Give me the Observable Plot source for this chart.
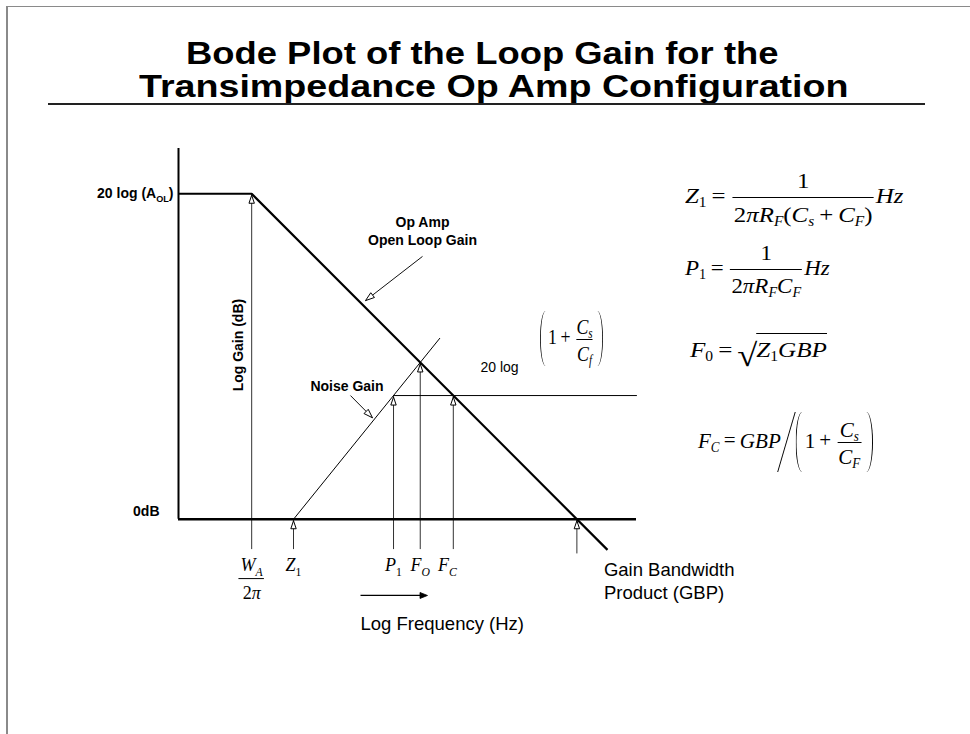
<!DOCTYPE html>
<html>
<head>
<meta charset="utf-8">
<script src="https://cdn.jsdelivr.net/npm/d3@7"></script>
<script src="https://cdn.jsdelivr.net/npm/@observablehq/plot@0.6"></script>
<style>
  html, body { margin: 0; padding: 0; background: #fff; }
  #page { position: relative; width: 970px; height: 734px; overflow: hidden; background: #fff; }
  .rule-left { position: absolute; left: 6px; top: 6px; bottom: 0; width: 2px; background: #8a8a8a; z-index: 2; }
  .rule-top { position: absolute; left: 6px; right: 0; top: 6px; height: 1px; background: #8a8a8a; z-index: 2; }
  header { position: relative; height: 112px; }
  .title-line { position: absolute; white-space: nowrap; font: bold 31px "Liberation Sans", Arial, Helvetica, sans-serif; line-height: 1; transform-origin: 0 0; color: #000; }
  .title-rule { position: absolute; left: 48px; width: 877px; top: 103px; height: 2px; background: #222; }
  #chart svg { display: block; }
  .bm { display: inline-block; width: 0; height: 0; }

  /* formula typesetting */
  .eq { position: absolute; white-space: nowrap; font: 22px "Liberation Serif", "Times New Roman", serif; line-height: 1.1; transform-origin: 0 0; color: #000; }
  .eq i { font-style: italic; }
  .eq sub { font-size: 0.62em; vertical-align: -0.3em; line-height: 0; }
  .eq .op { margin: 0 0.2em; }
  .eq .frac { display: inline-flex; flex-direction: column; align-items: center; vertical-align: 15px; margin: 0 2px; }
  .eq .frac > span { line-height: 1.1; padding: 0 1px; }
  .eq .frac .num { padding-bottom: 4px; }
  .eq .frac .den { border-top: 1px solid #000; padding-top: var(--dpad, 4px); }
  .eq .frac.small { vertical-align: 10px; }
  .eq .frac.small .num { padding-bottom: 0; }
  .eq .frac.small .den { padding-top: 2px; }
  .eq .lp, .eq .rp { display: inline-block; width: 7px; height: var(--ph, 56px); border: 0 solid #000; vertical-align: calc(var(--ph, 56px) / -2 + 5.5px); }
  .eq .lp { border-left-width: 1.2px; border-radius: 7px 0 0 7px / 50% 0 0 50%; margin-right: 2px; }
  .eq .rp { border-right-width: 1.2px; border-radius: 0 7px 7px 0 / 0 50% 50% 0; margin-left: 2px; }
  .eq .slash { display: inline-block; width: 0; height: 60px; border-left: 1.2px solid #000; transform: skewX(-17deg); vertical-align: -24.5px; margin: 0 9px 0 5px; }
  .eq .rad { display: inline-block; font-size: 32px; line-height: 1; vertical-align: -9px; margin-right: -1px; }
  .eq .radicand { display: inline-block; border-top: 1px solid #000; padding-top: 5px; line-height: 1; }
</style>
</head>
<body>
<div id="page">
  <div class="rule-left"></div>
  <div class="rule-top"></div>
  <header>
    <div class="title-line" id="t1">Bode Plot of the Loop Gain for the</div>
    <div class="title-line" id="t2">Transimpedance Op Amp Configuration</div>
    <div class="title-rule"></div>
  </header>
  <div id="chart"></div>
</div>
<script>
// ---- schematic values: log10(frequency) in decades, gain in dB ----
const axisLogF = -0.35;          // gain axis position
const endLogF = 8.1;             // right end of the 0 dB and noise-gain lines
const axisTopDb = 136.7;         // top of the gain axis
const openLoopLogF = [-0.35, 1, 7.565];
const openLoopDb = [120, 120, -11.3];
const noiseRiseLogF = [1.772, 4.47];
const noiseRiseDb = [0, 66.7];
const noiseFlatLogF = [3.617, 8.1];
const noiseFlatDb = [45.6, 45.6];

// frequency markers (W_A/2π, Z1, P1, F0, FC, GBP)
const markerNames = ["WA", "Z1", "P1", "F0", "FC", "GBP"];
const markerLogF = [1, 1.772, 3.617, 4.11, 4.72, 7];
const markerDb = [120, 0, 45.6, 57.8, 45.6, 0];
const markerFootDb = [-11, -11, -11, -11, -11, -12.6];
const markerLabels = ["", "$Z_{1}", "$P_{1}", "$F_{O}", "$F_{C}", ""];

// callout pointers: tail → tip
const pointerNames = ["openLoop", "noise"];
const pointerLogF1 = [4.152, 2.823];
const pointerDb1 = [96.9, 45.6];
const pointerLogF2 = [3.10, 3.229];
const pointerDb2 = [80.6, 37.4];
const pointerText = ["Op Amp\nOpen Loop Gain", "Noise Gain"];

const openLoop = openLoopLogF.map((x, i) => ({x, y: openLoopDb[i]}));
const noiseRise = noiseRiseLogF.map((x, i) => ({x, y: noiseRiseDb[i]}));
const noiseFlat = noiseFlatLogF.map((x, i) => ({x, y: noiseFlatDb[i]}));
const markers = markerNames.map((name, i) => ({name, logF: markerLogF[i], db: markerDb[i], foot: markerFootDb[i], label: markerLabels[i]}));
const pointers = pointerNames.map((name, i) => ({name, x1: pointerLogF1[i], y1: pointerDb1[i], x2: pointerLogF2[i], y2: pointerDb2[i], text: pointerText[i]}));

// arrowhead glyph: tip at the origin, rotated clockwise by deg (0 = pointing up)
function head(deg, len = 8, half = 2.7) {
  const a = deg * Math.PI / 180, c = Math.cos(a), s = Math.sin(a);
  const pt = (x, y) => [x * c - y * s, x * s + y * c];
  return {draw(ctx) {
    const p1 = pt(half, len), p2 = pt(-half, len);
    ctx.moveTo(0, 0); ctx.lineTo(p1[0], p1[1]); ctx.lineTo(p2[0], p2[1]); ctx.closePath();
  }};
}

const serif = "Liberation Serif, Times New Roman, serif";
const sans = "Liberation Sans, Arial, Helvetica, sans-serif";

const chart = Plot.plot({
  width: 970,
  height: 622,
  marginLeft: 178,
  marginRight: 334,
  marginTop: 27,
  marginBottom: 161,
  x: {domain: [axisLogF, endLogF], axis: null},
  y: {domain: [-20, 140], axis: null},
  style: {fontFamily: sans, background: "white", overflow: "visible", color: "black"},
  marks: [
    // marker shafts
    Plot.link(markers, {x1: "logF", x2: "logF", y1: "foot", y2: "db", stroke: "#333", strokeWidth: 1}),
    // callout shafts
    Plot.link(pointers, {x1: "x1", y1: "y1", x2: "x2", y2: "y2", stroke: "#111", strokeWidth: 1}),
    // hollow arrowheads
    Plot.dot(markers, {x: "logF", y: "db", dy: 1.5, symbol: head(0), fill: "white", stroke: "black", strokeWidth: 1}),
    Plot.dot(pointers.filter(d => d.name === "openLoop"), {x: "x2", y: "y2", symbol: head(232.3, 9, 3), fill: "white", stroke: "black", strokeWidth: 1}),
    Plot.dot(pointers.filter(d => d.name === "noise"), {x: "x2", y: "y2", symbol: head(135, 9, 3), fill: "white", stroke: "black", strokeWidth: 1}),
    // gain axis and 0 dB line
    Plot.ruleX([axisLogF], {y1: 0, y2: axisTopDb, stroke: "black", strokeWidth: 2}),
    Plot.ruleY([0], {x1: axisLogF, x2: endLogF, stroke: "black", strokeWidth: 2.4}),
    // open-loop gain and noise gain
    Plot.line(openLoop, {x: "x", y: "y", stroke: "black", strokeWidth: 2.2, strokeLinecap: "butt"}),
    Plot.line(noiseRise, {x: "x", y: "y", stroke: "black", strokeWidth: 1}),
    Plot.line(noiseFlat, {x: "x", y: "y", stroke: "black", strokeWidth: 1}),
    // gain axis labels
    Plot.text(["20 log (A_{OL})"], {x: axisLogF, y: 120, text: d => d, textAnchor: "end", lineAnchor: "bottom", dx: -5, dy: 4, fontWeight: "bold", fontSize: 14}),
    Plot.text(["0dB"], {x: axisLogF, y: 0, text: d => d, textAnchor: "end", lineAnchor: "bottom", dx: -19, dy: -3.5, fontWeight: "bold", fontSize: 14}),
    Plot.text(["Log Gain (dB)"], {x: 1, y: 64.2, text: d => d, rotate: -90, dx: -13, fontWeight: "bold", fontSize: 14}),
    // callout labels
    Plot.text(pointers.filter(d => d.name === "openLoop"), {x: "x1", y: "y1", text: "text", lineAnchor: "bottom", dy: -11, fontWeight: "bold", fontSize: 14, lineHeight: 1.29}),
    Plot.text(pointers.filter(d => d.name === "noise"), {x: "x1", y: "y1", text: "text", lineAnchor: "bottom", dx: -3.5, dy: -5, fontWeight: "bold", fontSize: 14}),
    Plot.text(["20 log"], {x: 5.222, y: noiseFlatDb[0], text: d => d, textAnchor: "start", lineAnchor: "bottom", dy: -24, fontSize: 14}),
    // frequency labels
    Plot.text(markers.filter(d => d.label && d.name !== "FC"), {x: "logF", y: "foot", text: "label", lineAnchor: "bottom", dy: 21.5, fontFamily: serif, fontSize: 18}),
    Plot.text(markers.filter(d => d.name === "FC"), {x: "logF", y: "foot", text: "label", lineAnchor: "bottom", dx: -6, dy: 21.5, fontFamily: serif, fontSize: 18}),
    Plot.text(["$W_{A}"], {x: markerLogF[0], y: markerFootDb[0], text: d => d, lineAnchor: "bottom", dy: 21.5, fontFamily: serif, fontSize: 18}),
    Plot.ruleY([markerFootDb[0]], {x1: markerLogF[0] - 0.235, x2: markerLogF[0] + 0.235, dy: 29.5, stroke: "black", strokeWidth: 1}),
    Plot.text(["$2π"], {x: markerLogF[0], y: markerFootDb[0], text: d => d, lineAnchor: "bottom", dy: 49.5, fontFamily: serif, fontSize: 18}),
    Plot.text(["Gain Bandwidth\nProduct (GBP)"], {x: markerLogF[5], y: 0, text: d => d, textAnchor: "start", lineAnchor: "top", dx: 27, dy: 40.2, fontSize: 18.5, lineHeight: 1.243}),
    // frequency direction arrow and label
    Plot.link([{x1: 3.008, x2: 4.15, y: -28.1}], {x1: "x1", x2: "x2", y1: "y", y2: "y", stroke: "black", strokeWidth: 1.3}),
    Plot.dot([{x: 4.244, y: -28.1}], {x: "x", y: "y", symbol: head(90, 7.5, 3), fill: "black", stroke: "black", strokeWidth: 0.8}),
    Plot.text(["Log Frequency (Hz)"], {x: 3.008, y: -28.1, text: d => d, textAnchor: "start", lineAnchor: "bottom", dy: 35, fontSize: 18.5})
  ]
});
document.getElementById("chart").appendChild(chart);

// subscripts (_{...}) and math italics ($ prefix) inside SVG labels
const svgNS = "http://www.w3.org/2000/svg";
for (const el of chart.querySelectorAll("text")) {
  let s = el.textContent;
  if (!(s.startsWith("$") || s.includes("_{"))) continue;
  const math = s.startsWith("$");
  if (math) s = s.slice(1);
  const fs = parseFloat(getComputedStyle(el).fontSize);
  const parts = [];
  const re = /_\{([^}]*)\}/g;
  let last = 0, m;
  while ((m = re.exec(s))) {
    if (m.index > last) parts.push({t: s.slice(last, m.index), sub: false});
    parts.push({t: m[1], sub: true});
    last = re.lastIndex;
  }
  if (last < s.length) parts.push({t: s.slice(last), sub: false});
  el.textContent = "";
  let shift = 0;
  for (const p of parts) {
    const runs = math ? p.t.match(/[A-Za-zπ]+|[^A-Za-zπ]+/g) : [p.t];
    const target = p.sub ? 0.28 * fs : 0;
    runs.forEach((r, i) => {
      const ts = document.createElementNS(svgNS, "tspan");
      ts.textContent = r;
      if (i === 0 && target !== shift) { ts.setAttribute("dy", target - shift); shift = target; }
      if (p.sub) ts.setAttribute("font-size", 0.65 * fs);
      if (math && /[A-Za-zπ]/.test(r)) ts.setAttribute("font-style", "italic");
      el.appendChild(ts);
    });
  }
}

// ---- formulas ----
const I = s => `<i>${s}</i>`;
const sub = s => `<sub>${s}</sub>`;
const op = s => `<span class="op">${s}</span>`;
const frac = (n, d, cls = "") => `<span class="frac ${cls}"><span class="num">${n}</span><span class="den">${d}</span></span>`;
const lp = `<span class="lp"></span>`, rp = `<span class="rp"></span>`;

const formulas = [
  {html: `${I("Z")}${sub("1")}${op("=")}${frac("1", `2${I("πR")}${sub(I("F"))}(${I("C")}${sub(I("s"))}${op("+")}${I("C")}${sub(I("F"))})`)}${I("Hz")}`,
   left: 685, baseline: 203, width: 218, style: "--dpad:5px"},
  {html: `${I("P")}${sub("1")}${op("=")}${frac("1", `2${I("πR")}${sub(I("F"))}${I("C")}${sub(I("F"))}`)}${I("Hz")}`,
   left: 685, baseline: 275, width: 145, style: "--dpad:4px"},
  {html: `${I("F")}${sub("0")}${op("=")}<span class="rad">√</span><span class="radicand">${I("Z")}${sub("1")}${I("GBP")}</span>`,
   left: 690, baseline: 357, width: 137},
  {html: `${I("F")}${sub(I("C"))}${op("=")}${I("GBP")}<span class="slash"></span>${lp}1${op("+")}${frac(`${I("C")}${sub(I("s"))}`, `${I("C")}${sub(I("F"))}`, "small")}${rp}`,
   left: 698, baseline: 447, width: 175, style: "--ph:60px"},
  {html: `${lp}1${op("+")}${frac(`${I("C")}${sub(I("s"))}`, `${I("C")}${sub(I("f"))}`, "small")}${rp}`,
   left: 540, baseline: 344, width: 63, style: "--ph:55px"}
];

const page = document.getElementById("page");

// place an element so that its first baseline sits at y and its width fits w
function place(el, left, baseline, width) {
  const bm = document.createElement("span");
  bm.className = "bm";
  el.insertBefore(bm, el.firstChild);
  el.style.left = left + "px";
  el.style.top = "0px";
  const off = bm.getBoundingClientRect().top - el.getBoundingClientRect().top;
  el.style.top = (baseline - off) + "px";
  if (width) el.style.transform = `scaleX(${width / el.offsetWidth})`;
}

for (const f of formulas) {
  const el = document.createElement("div");
  el.className = "eq";
  if (f.style) el.setAttribute("style", f.style);
  el.innerHTML = f.html;
  page.appendChild(el);
  place(el, f.left, f.baseline, f.width);
}

place(document.getElementById("t1"), 186, 64, 593);
place(document.getElementById("t2"), 139, 97, 709);
</script>
</body>
</html>
